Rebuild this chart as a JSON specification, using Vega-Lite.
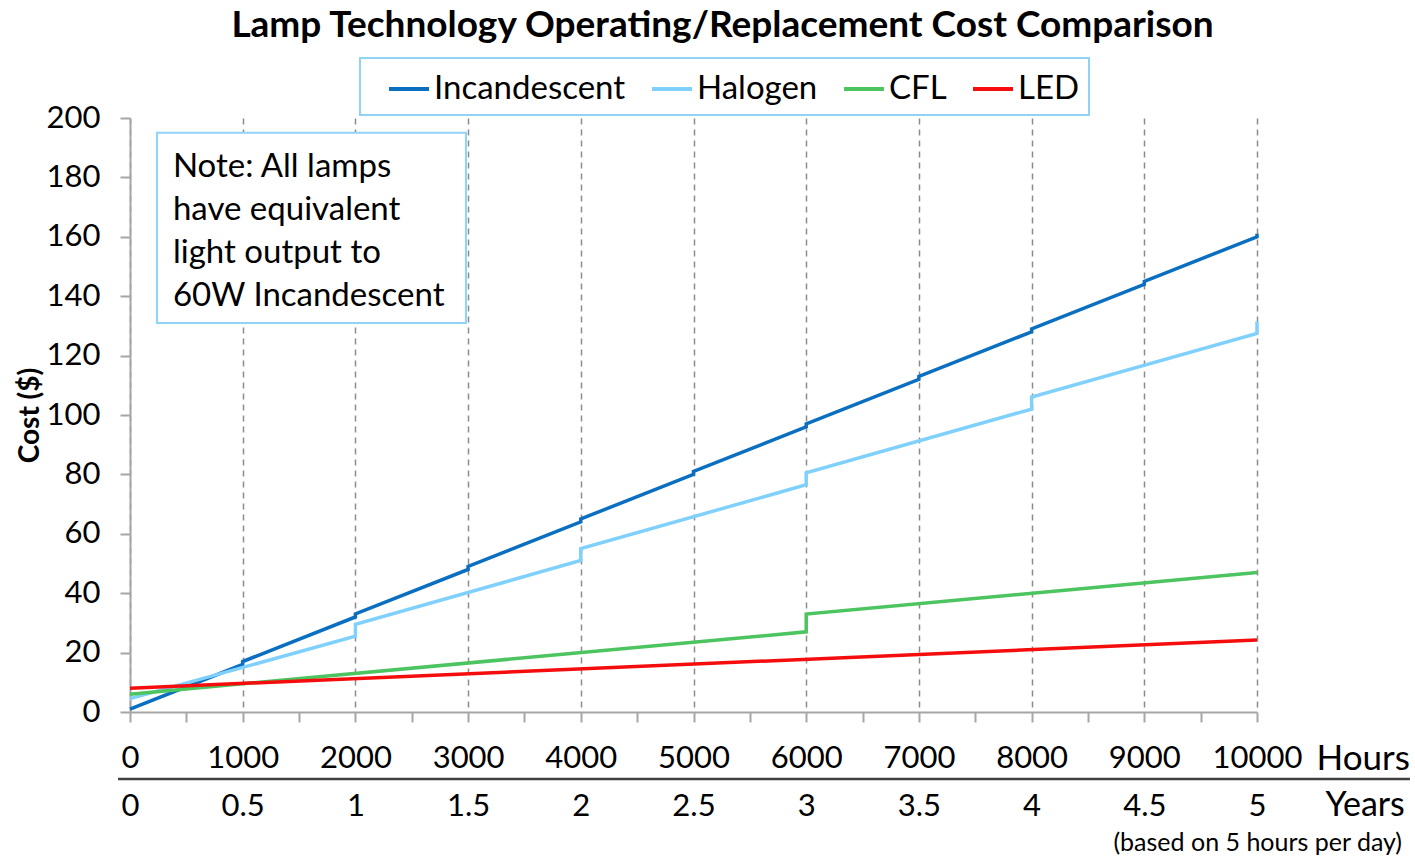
{
  "$schema": "https://vega.github.io/schema/vega-lite/v6.json",
  "autosize": {"type": "none"},
  "width": 1127,
  "height": 594,
  "padding": {"left": 130, "top": 118, "right": 158, "bottom": 144},
  "background": "white",
  "config": {
    "font": "Lato",
    "view": {"stroke": null},
    "legend": {"strokeWidth": 2}
  },
  "title": {
    "text": "Lamp Technology Operating/Replacement Cost Comparison",
    "fontSize": 37,
    "fontWeight": "bold",
    "color": "black",
    "anchor": "middle",
    "frame": "group",
    "dx": 29,
    "offset": 12
  },
  "datasets": {
    "cost": [
      {"lamp": "Incandescent", "i": 0, "hours": 0, "cost": 1},
      {"lamp": "Incandescent", "i": 1, "hours": 1000, "cost": 16},
      {"lamp": "Incandescent", "i": 2, "hours": 1000, "cost": 17},
      {"lamp": "Incandescent", "i": 3, "hours": 2000, "cost": 32},
      {"lamp": "Incandescent", "i": 4, "hours": 2000, "cost": 33},
      {"lamp": "Incandescent", "i": 5, "hours": 3000, "cost": 48},
      {"lamp": "Incandescent", "i": 6, "hours": 3000, "cost": 49},
      {"lamp": "Incandescent", "i": 7, "hours": 4000, "cost": 64},
      {"lamp": "Incandescent", "i": 8, "hours": 4000, "cost": 65},
      {"lamp": "Incandescent", "i": 9, "hours": 5000, "cost": 80},
      {"lamp": "Incandescent", "i": 10, "hours": 5000, "cost": 81},
      {"lamp": "Incandescent", "i": 11, "hours": 6000, "cost": 96},
      {"lamp": "Incandescent", "i": 12, "hours": 6000, "cost": 97},
      {"lamp": "Incandescent", "i": 13, "hours": 7000, "cost": 112},
      {"lamp": "Incandescent", "i": 14, "hours": 7000, "cost": 113},
      {"lamp": "Incandescent", "i": 15, "hours": 8000, "cost": 128},
      {"lamp": "Incandescent", "i": 16, "hours": 8000, "cost": 129},
      {"lamp": "Incandescent", "i": 17, "hours": 9000, "cost": 144},
      {"lamp": "Incandescent", "i": 18, "hours": 9000, "cost": 145},
      {"lamp": "Incandescent", "i": 19, "hours": 10000, "cost": 160},
      {"lamp": "Incandescent", "i": 20, "hours": 10000, "cost": 161},
      {"lamp": "Halogen", "i": 0, "hours": 0, "cost": 4.5},
      {"lamp": "Halogen", "i": 1, "hours": 2000, "cost": 25.5},
      {"lamp": "Halogen", "i": 2, "hours": 2000, "cost": 29.5},
      {"lamp": "Halogen", "i": 3, "hours": 4000, "cost": 51},
      {"lamp": "Halogen", "i": 4, "hours": 4000, "cost": 55},
      {"lamp": "Halogen", "i": 5, "hours": 6000, "cost": 76.5},
      {"lamp": "Halogen", "i": 6, "hours": 6000, "cost": 80.5},
      {"lamp": "Halogen", "i": 7, "hours": 8000, "cost": 102},
      {"lamp": "Halogen", "i": 8, "hours": 8000, "cost": 106},
      {"lamp": "Halogen", "i": 9, "hours": 10000, "cost": 127.5},
      {"lamp": "Halogen", "i": 10, "hours": 10000, "cost": 131.5},
      {"lamp": "CFL", "i": 0, "hours": 0, "cost": 6},
      {"lamp": "CFL", "i": 1, "hours": 6000, "cost": 27},
      {"lamp": "CFL", "i": 2, "hours": 6000, "cost": 33},
      {"lamp": "CFL", "i": 3, "hours": 10000, "cost": 47},
      {"lamp": "LED", "i": 0, "hours": 0, "cost": 8},
      {"lamp": "LED", "i": 1, "hours": 10000, "cost": 24.25}
    ],
    "one": [{}]
  },
  "layer": [
    {
      "data": {"name": "one"},
      "mark": {"type": "rect", "fill": "white", "stroke": "#8fd3f7", "strokeWidth": 2},
      "encoding": {
        "x": {"datum": 240, "type": "quantitative", "scale": {"domain": [0, 10000], "nice": false}, "axis": null},
        "x2": {"datum": 2981},
        "y": {"datum": 195, "type": "quantitative", "scale": {"domain": [0, 200], "nice": false}},
        "y2": {"datum": 131}
      }
    },
    {
      "data": {"name": "cost"},
      "mark": {"type": "line", "strokeWidth": 3.5},
      "encoding": {
        "x": {
          "field": "hours",
          "type": "quantitative",
          "scale": {"domain": [0, 10000], "nice": false},
          "axis": {
            "orient": "bottom",
            "values": [0, 500, 1000, 1500, 2000, 2500, 3000, 3500, 4000, 4500, 5000, 5500, 6000, 6500, 7000, 7500, 8000, 8500, 9000, 9500, 10000],
            "format": "d",
            "labelExpr": "datum.value % 1000 === 0 ? datum.label : ''",
            "labelFontSize": 31,
            "labelColor": "black",
            "labelPadding": 21,
            "labelFlush": false,
            "labelOverlap": false,
            "tickSize": 10,
            "tickColor": "#a6a6a6",
            "tickWidth": 2,
            "domainColor": "#a6a6a6",
            "domainWidth": 2,
            "grid": true,
            "gridColor": "#8c8c8c",
            "gridDash": [6, 5],
            "gridWidth": 1.5,
            "gridOpacity": {"condition": {"test": "datum.value % 1000 !== 0", "value": 0}, "value": 1},
            "title": "Hours",
            "titleFontSize": 35,
            "titleFontWeight": "normal",
            "titleColor": "black",
            "titleAlign": "left",
            "titleAnchor": "start",
            "titleBaseline": "middle",
            "titleX": 1186,
            "titleY": 46
          }
        },
        "y": {
          "field": "cost",
          "type": "quantitative",
          "scale": {"domain": [0, 200], "nice": false},
          "axis": {
            "values": [0, 20, 40, 60, 80, 100, 120, 140, 160, 180, 200],
            "labelFontSize": 31,
            "labelColor": "black",
            "labelPadding": 20,
            "tickSize": 10,
            "tickColor": "#a6a6a6",
            "tickWidth": 2,
            "domainColor": "#a6a6a6",
            "domainWidth": 2,
            "gridColor": "#a6a6a6",
            "gridWidth": 2,
            "title": "Cost ($)",
            "titleFontSize": 28,
            "titleFontWeight": "bold",
            "titleColor": "black",
            "titlePadding": 2
          }
        },
        "color": {
          "field": "lamp",
          "type": "nominal",
          "scale": {"domain": ["Incandescent", "Halogen", "CFL", "LED"], "range": ["#0a6fc0", "#80d0fc", "#4cc45f", "#f50d0d"]},
          "legend": {
            "orient": "none",
            "legendX": 230,
            "legendY": -60,
            "direction": "horizontal",
            "title": null,
            "labelFontSize": 33,
            "labelColor": "black",
            "labelLimit": 0,
            "labelOffset": 3,
            "symbolType": "stroke",
            "symbolSize": 1600,
            "symbolStrokeWidth": 4,
            "symbolOffset": 18,
            "strokeColor": "#8fd3f7",
            "fillColor": "white",
            "padding": 9,
            "columnPadding": 6
          }
        },
        "order": {"field": "i", "type": "quantitative"}
      }
    },
    {
      "data": {"name": "one"},
      "mark": {"type": "rule", "color": "#404040", "strokeWidth": 2.5},
      "encoding": {
        "x": {
          "datum": -106,
          "type": "quantitative",
          "scale": {"domain": [0, 10000], "nice": false},
          "axis": {
            "orient": "bottom",
            "values": [0, 1000, 2000, 3000, 4000, 5000, 6000, 7000, 8000, 9000, 10000],
            "labelExpr": "'' + (datum.value / 2000)",
            "offset": 60,
            "ticks": false,
            "domain": false,
            "grid": false,
            "labelFontSize": 31,
            "labelColor": "black",
            "labelPadding": 19,
            "labelFlush": false,
            "labelOverlap": false,
            "title": "Years",
            "titleFontSize": 34,
            "titleFontWeight": "normal",
            "titleColor": "black",
            "titleAlign": "left",
            "titleAnchor": "start",
            "titleBaseline": "middle",
            "titleX": 1195,
            "titleY": 33
          }
        },
        "x2": {"datum": 11357},
        "y": {"datum": -22.6, "type": "quantitative", "scale": {"domain": [0, 200], "nice": false}}
      }
    },
    {
      "data": {"name": "one"},
      "mark": {"type": "text", "fontSize": 25, "align": "right", "baseline": "middle", "color": "black"},
      "encoding": {
        "x": {"datum": 11287, "type": "quantitative", "scale": {"domain": [0, 10000], "nice": false}, "axis": null},
        "y": {"datum": -44.1, "type": "quantitative", "scale": {"domain": [0, 200], "nice": false}},
        "text": {"value": "(based on 5 hours per day)"}
      }
    },
    {
      "data": {"name": "one"},
      "mark": {"type": "text", "fontSize": 33, "align": "left", "baseline": "top", "lineHeight": 43, "color": "black"},
      "encoding": {
        "x": {"datum": 381, "type": "quantitative", "scale": {"domain": [0, 10000], "nice": false}, "axis": null},
        "y": {"datum": 189, "type": "quantitative", "scale": {"domain": [0, 200], "nice": false}},
        "text": {"value": ["Note: All lamps", "have equivalent", "light output to", "60W Incandescent"]}
      }
    }
  ],
  "resolve": {"axis": {"x": "independent"}}
}
